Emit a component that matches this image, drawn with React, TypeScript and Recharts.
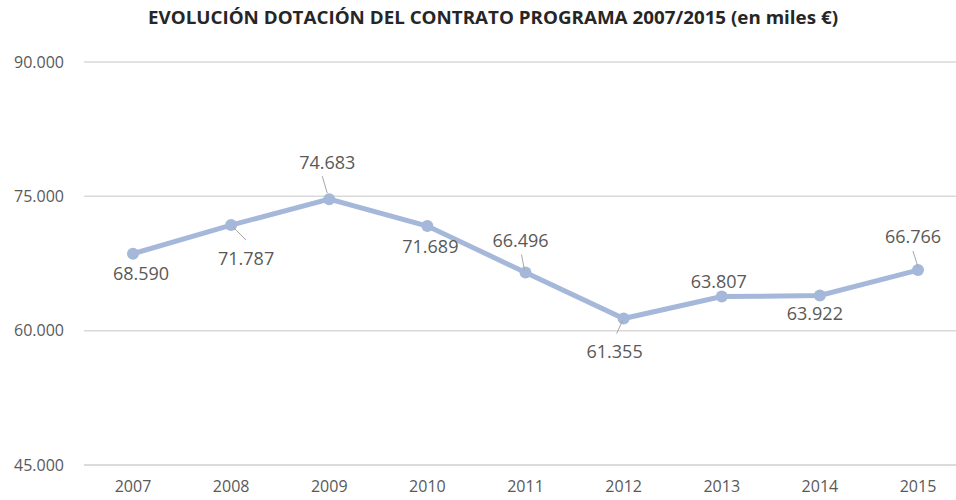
import React from 'react'
import { LineChart, Line, XAxis, YAxis, CartesianGrid } from 'recharts'

const years = ['2007', '2008', '2009', '2010', '2011', '2012', '2013', '2014', '2015']
const dotacion = [68590, 71787, 74683, 71689, 66496, 61355, 63807, 63922, 66766]
const yTicks = [45000, 60000, 75000, 90000]

// label placement relative to each point: text centre offset, optional leader line
const labelLayout = [
  { dx: 8, dy: 19, leader: null },
  { dx: 15, dy: 33, leader: [2, 2, 15, 15] },
  { dx: -2, dy: -37, leader: [-7, -23, -2, -6] },
  { dx: 3, dy: 20, leader: null },
  { dx: -5, dy: -32, leader: [-4, -18, -1, -2] },
  { dx: -9, dy: 32, leader: [-1, 2, -7, 15] },
  { dx: -3, dy: -16, leader: null },
  { dx: -5, dy: 17, leader: null },
  { dx: -5, dy: -34, leader: [-5, -19, 0, -3] },
]

const data = years.map((year, i) => ({ year, value: dotacion[i] }))

const FONT = '"Open Sans", "Liberation Sans", sans-serif'
const LINE_COLOR = '#A5B8DA'
const TEXT_COLOR = '#595959'

const fmtThousands = (v: number) => {
  const s = String(Math.round(v))
  return s.replace(/\B(?=(\d{3})+(?!\d))/g, '.')
}

const renderLabel = (props: any) => {
  const { x, y, value, index } = props
  const l = labelLayout[index]
  if (!l) return null
  return (
    <g key={`lbl-${index}`}>
      {l.leader && (
        <line
          x1={x + l.leader[0]}
          y1={y + l.leader[1]}
          x2={x + l.leader[2]}
          y2={y + l.leader[3]}
          stroke="#A6A6A6"
          strokeWidth={1}
        />
      )}
      <text
        x={x + l.dx}
        y={y + l.dy}
        textAnchor="middle"
        dominantBaseline="central"
        fontFamily={FONT}
        fontSize={18}
        fill={TEXT_COLOR}
      >
        {fmtThousands(value)}
      </text>
    </g>
  )
}

export default function App() {
  return (
    <div style={{ position: 'absolute', left: 0, top: 0, width: 956, height: 500, overflow: 'hidden', background: '#fff' }}>
      <svg width={956} height={40} style={{ position: 'absolute', left: 0, top: 0 }}>
        <text
          x={148}
          y={24}
          textLength={690}
          lengthAdjust="spacingAndGlyphs"
          fontFamily={FONT}
          fontWeight={700}
          fontSize={17}
          fill="#262626"
        >
          EVOLUCIÓN DOTACIÓN DEL CONTRATO PROGRAMA 2007/2015 (en miles €)
        </text>
      </svg>
      <div style={{ position: 'absolute', left: 0, top: 0 }}>
        <LineChart width={967} height={500} data={data} margin={{ top: 62, right: 0, bottom: 0, left: 0 }}>
          <CartesianGrid vertical={false} stroke="#D9D9D9" strokeWidth={1.5} />
          <XAxis
            dataKey="year"
            height={35}
            padding={{ left: 49, right: 49 }}
            axisLine={{ stroke: '#D9D9D9', strokeWidth: 1.5 }}
            tickLine={false}
            tickSize={0}
            tickMargin={16}
            tick={{ fill: TEXT_COLOR, fontSize: 16, fontFamily: FONT }}
            interval={0}
          />
          <YAxis
            width={84}
            domain={[45000, 90000]}
            ticks={yTicks}
            axisLine={false}
            tickLine={false}
            tickSize={0}
            tickMargin={20}
            tickFormatter={fmtThousands}
            tick={{ fill: TEXT_COLOR, fontSize: 16, fontFamily: FONT }}
          />
          <Line
            type="linear"
            dataKey="value"
            stroke={LINE_COLOR}
            strokeWidth={5}
            dot={{ r: 6, fill: LINE_COLOR, stroke: LINE_COLOR, strokeWidth: 0 }}
            label={renderLabel}
            isAnimationActive={false}
          />
        </LineChart>
      </div>
    </div>
  )
}
